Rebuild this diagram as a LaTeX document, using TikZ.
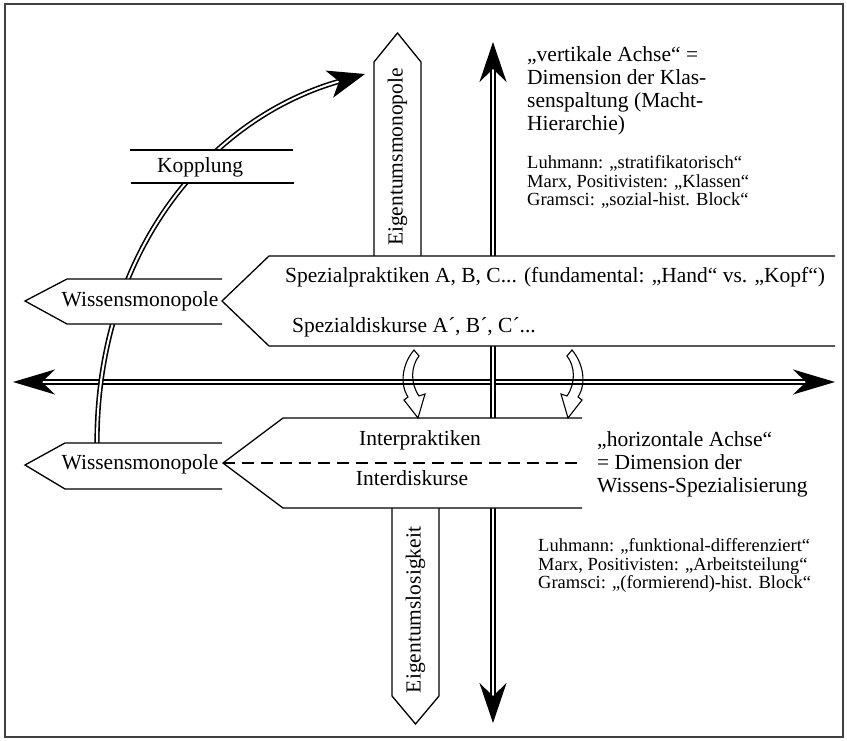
\documentclass[tikz,border=0pt]{standalone}
\usepackage{fontspec}
\setmainfont{Liberation Serif}
\usetikzlibrary{arrows.meta}
\begin{document}
\begin{tikzpicture}[x=1pt,y=-1pt,
  shp/.style={draw=black, line width=1.3pt, fill=white, line join=miter},
  big/.style={font=\fontsize{21.5}{23}\selectfont, inner sep=0pt},
  small/.style={font=\fontsize{18.5}{18.8}\selectfont, inner sep=0pt},
  axis/.style={draw=black, double=white, double distance=2pt, line width=1.6pt},
  curv/.style={draw=black, line width=1.1pt, line join=miter}
]
\useasboundingbox (0,0) rectangle (847,741);
\draw[black!75, line width=1.5pt] (5,4) rectangle (843,737);

% axes
\coordinate (hL) at (13,382); \coordinate (hR) at (835,382);
\coordinate (vT) at (493,42); \coordinate (vB) at (493,723);
\draw[axis, {Stealth[length=42pt,width=25pt,inset=13pt]}-{Stealth[length=42pt,width=25pt,inset=13pt]}] (hL) -- (hR);
\draw[axis, {Stealth[length=40pt,width=27pt,inset=13pt]}-{Stealth[length=40pt,width=27pt,inset=13pt]}] (vB) -- (vT);

% Kopplung curve
\coordinate (kS) at (97,443); \coordinate (kE) at (365,74);
\draw[axis, -{Stealth[length=37pt,width=28pt,inset=10pt]}] (kS) .. controls (97,250) and (210,118) .. (kE);

% Eigentumsmonopole box
\path[shp] (374,256) -- (374,62) -- (397.5,33) -- (421,62) -- (421,256);
% upper Wissensmonopole
\path[shp] (222,279) -- (67,279) -- (25,301) -- (67,324) -- (222,324);
% Spezial shape
\path[shp] (835,256) -- (269,256) -- (222,301) -- (269,346) -- (835,346);

% Eigentumslosigkeit box
\path[shp] (392,508) -- (392,696) -- (415.5,724) -- (439,696) -- (439,508);
% lower Wissensmonopole
\path[shp] (222,443) -- (65,443) -- (25,465) -- (65,489) -- (222,489);
% Inter shape
\path[shp] (582,418) -- (283,418) -- (223,463) -- (283,508) -- (582,508);
\draw[line width=1.3pt, dash pattern=on 12pt off 7pt] (223,463) -- (582,463);

% Kopplung band
\fill[white] (130,150) rectangle (294,183);
\draw[line width=1.3pt] (130,150) -- (293,150) (131,183) -- (294,183);

% curved arrows
\draw[curv] (414,350) .. controls (403,363) and (399,383) .. (408,397) -- (404,400) -- (418,418) -- (425,394) -- (419,396) .. controls (410,383) and (411,366) .. (419,356) -- cycle;
\begin{scope}[xshift=986pt, xscale=-1]
\draw[curv] (414,350) .. controls (403,363) and (399,383) .. (408,397) -- (404,400) -- (418,418) -- (425,394) -- (419,396) .. controls (410,383) and (411,366) .. (419,356) -- cycle;
\end{scope}

% texts
\node[big] (kop) at (200,167) {Kopplung};
\node[big] (w1) at (140,301) {Wissensmonopole};
\node[big] (w2) at (140,464) {Wissensmonopole};
\node[big, anchor=west] (sp) at (285,277) {Spezialpraktiken A, B, C... (fundamental: „Hand“ vs. „Kopf“)};
\node[big, anchor=west] (sd) at (292,327) {Spezialdiskurse A´, B´, C´...};
\node[big] (ip) at (420,440) {Interpraktiken};
\node[big] (id) at (412,478) {Interdiskurse};
\node[big, rotate=90] (em) at (397.5,157) {Eigentumsmonopole};
\node[big, rotate=90] (el) at (415.5,610) {Eigentumslosigkeit};

\node[big, anchor=north west, align=left] (va) at (527,46) {„vertikale Achse“ =\\Dimension der Klas-\\senspaltung (Macht-\\Hierarchie)};
\node[small, anchor=north west, align=left] (vs) at (527,155) {Luhmann: „stratifikatorisch“\\Marx, Positivisten: „Klassen“\\Gramsci: „sozial-hist. Block“};
\node[big, anchor=north west, align=left] (ha) at (597,431) {„horizontale Achse“\\= Dimension der\\Wissens-Spezialisierung};
\node[small, anchor=north west, align=left] (hs) at (538,538) {Luhmann: „funktional-differenziert“\\Marx, Positivisten: „Arbeitsteilung“\\Gramsci: „(formierend)-hist. Block“};
\end{tikzpicture}
\end{document}
